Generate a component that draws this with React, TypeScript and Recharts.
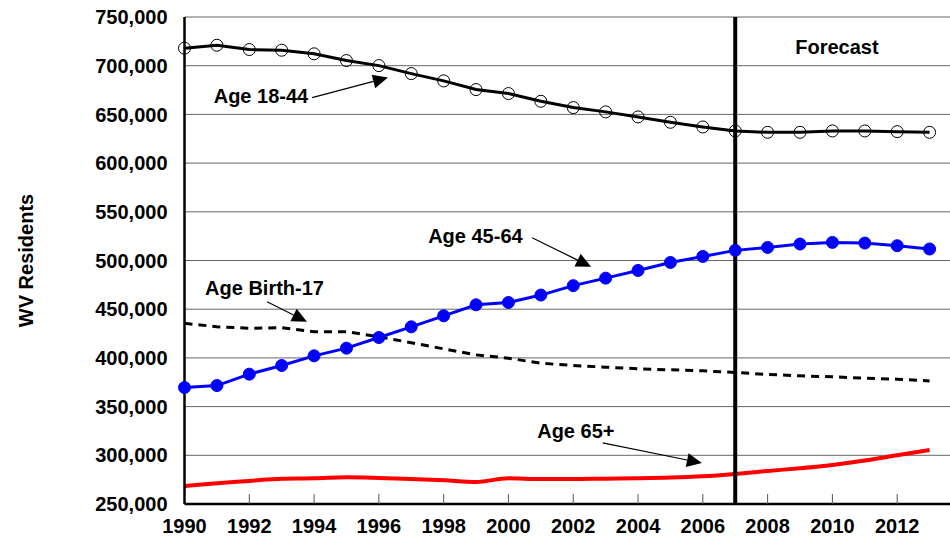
import {
  LineChart,
  Line,
  XAxis,
  YAxis,
  CartesianGrid,
  ReferenceLine,
  ReferenceDot,
  Label,
} from "recharts";

const years = [
  1990, 1991, 1992, 1993, 1994, 1995, 1996, 1997, 1998, 1999, 2000, 2001,
  2002, 2003, 2004, 2005, 2006, 2007, 2008, 2009, 2010, 2011, 2012, 2013,
];
const age18to44 = [
  718000, 721000, 716600, 715900, 712200, 705300, 700100, 691900, 684400,
  675500, 671400, 663500, 657000, 652600, 647400, 641900, 637100, 633000,
  631600, 631600, 633000, 633000, 632300, 631600,
];
const age45to64 = [
  369600, 371600, 383300, 392200, 402100, 410000, 420900, 431900, 443200,
  454500, 456900, 464500, 474200, 481900, 489800, 498000, 504200, 510400,
  513400, 516900, 518600, 517900, 515200, 511800,
];
const ageBirthTo17 = [
  435500, 432000, 430400, 431000, 426900, 426900, 421700, 415600, 409300,
  403100, 399700, 394500, 392200, 390500, 388800, 387800, 386700, 385000,
  383000, 381600, 380600, 379200, 378200, 376400,
];
const age65plus = [
  268500, 271300, 273700, 276000, 276400, 277500, 276800, 275700, 274400,
  272600, 276400, 275700, 275700, 276000, 276400, 277100, 278500, 280900,
  283900, 286700, 290100, 294600, 300100, 305500,
];

const xTicks = [1990, 1992, 1994, 1996, 1998, 2000, 2002, 2004, 2006, 2008, 2010, 2012];
const yTicks = [250000, 300000, 350000, 400000, 450000, 500000, 550000, 600000, 650000, 700000, 750000];
const forecastYear = 2007;

// annotation texts and arrows, in data coordinates
const labelTexts = ["Age 18-44", "Age 45-64", "Age Birth-17", "Age 65+", "Forecast"];
const labelYears = [1992.36, 1998.98, 1992.47, 2002.08, 2010.14];
const labelValues = [669300, 525400, 472000, 325000, 719700];

const arrowFrom = [
  [1993.94, 667300],
  [2000.73, 523400],
  [1992.55, 457600],
  [2002.91, 312700],
];
const arrowTo = [
  [1996.28, 687800],
  [2002.55, 493600],
  [1993.78, 437100],
  [2005.97, 292100],
];

const data = years.map((year, i) => ({
  year,
  a18: age18to44[i],
  a45: age45to64[i],
  a0: ageBirthTo17[i],
  a65: age65plus[i],
}));

const FONT = "'Liberation Sans', Arial, sans-serif";

const Arrow = (p: any) => {
  const { x1, y1, x2, y2 } = p;
  const dx = x2 - x1;
  const dy = y2 - y1;
  const len = Math.sqrt(dx * dx + dy * dy);
  const ux = dx / len;
  const uy = dy / len;
  const hl = 15;
  const hw = 7;
  const bx = x2 - ux * hl;
  const by = y2 - uy * hl;
  const pts = `${x2},${y2} ${bx - uy * hw},${by + ux * hw} ${bx + uy * hw},${by - ux * hw}`;
  return (
    <g>
      <line x1={x1} y1={y1} x2={bx} y2={by} stroke="#000" strokeWidth={1.2} />
      <polygon points={pts} fill="#000" />
    </g>
  );
};

export default function App() {
  return (
    <div style={{ position: "absolute", left: 0, top: 0 }}>
      <LineChart
        width={950}
        height={537}
        data={data}
        margin={{ top: 17, right: 0, bottom: 0, left: 0 }}
      >
        <CartesianGrid vertical={false} stroke="#666" strokeWidth={1} />
        <XAxis
          dataKey="year"
          type="number"
          domain={[1990, 2013.63]}
          ticks={xTicks}
          height={33}
          tickSize={-10}
          tickMargin={25}
          axisLine={{ stroke: "#000", strokeWidth: 2.5 }}
          tickLine={{ stroke: "#555", strokeWidth: 1 }}
          tick={{ fill: "#000", fontSize: 20, fontWeight: "bold", fontFamily: FONT }}
        />
        <YAxis
          type="number"
          domain={[250000, 750000]}
          ticks={yTicks}
          width={184.5}
          tickSize={0}
          tickMargin={17}
          tickLine={false}
          axisLine={{ stroke: "#000", strokeWidth: 2.5 }}
          tickFormatter={(v: number) => v.toLocaleString("en-US")}
          tick={{ fill: "#000", fontSize: 20, fontWeight: "bold", fontFamily: FONT }}
        >
          <Label
            content={(props: any) => {
              const vb = props.viewBox;
              const cx = vb.x + 26;
              const cy = vb.y + vb.height / 2;
              return (
                <text
                  x={cx}
                  y={cy}
                  transform={`rotate(-90, ${cx}, ${cy})`}
                  textAnchor="middle"
                  dominantBaseline="central"
                  fontFamily={FONT}
                  fontWeight="bold"
                  fontSize={20}
                  fill="#000"
                >
                  WV Residents
                </text>
              );
            }}
          />
        </YAxis>

        <Line
          type="linear"
          dataKey="a0"
          stroke="#000"
          strokeWidth={3}
          strokeDasharray="8 6"
          dot={false}
          isAnimationActive={false}
        />
        <Line
          type="monotone"
          dataKey="a65"
          stroke="#ff0000"
          strokeWidth={4}
          dot={false}
          isAnimationActive={false}
        />
        <Line
          type="linear"
          dataKey="a45"
          stroke="#0000ff"
          strokeWidth={3}
          dot={{ r: 6, fill: "#0000ff", stroke: "#0000ff", strokeWidth: 1 }}
          isAnimationActive={false}
        />
        <Line
          type="linear"
          dataKey="a18"
          stroke="#000"
          strokeWidth={3}
          dot={{ r: 6, fill: "none", stroke: "#000", strokeWidth: 1 }}
          isAnimationActive={false}
        />

        <ReferenceLine x={forecastYear} stroke="#000" strokeWidth={4} />

        {arrowFrom.map((f, i) => (
          <ReferenceLine
            key={"arr" + i}
            segment={[
              { x: f[0], y: f[1] },
              { x: arrowTo[i][0], y: arrowTo[i][1] },
            ]}
            shape={Arrow}
          />
        ))}

        {labelTexts.map((t, i) => (
          <ReferenceDot
            key={"lbl" + i}
            x={labelYears[i]}
            y={labelValues[i]}
            r={0}
            shape={(p: any) => (
              <text
                x={p.cx}
                y={p.cy}
                textAnchor="middle"
                dominantBaseline="central"
                fontFamily={FONT}
                fontWeight="bold"
                fontSize={20}
                fill="#000"
              >
                {t}
              </text>
            )}
          />
        ))}
      </LineChart>
    </div>
  );
}
